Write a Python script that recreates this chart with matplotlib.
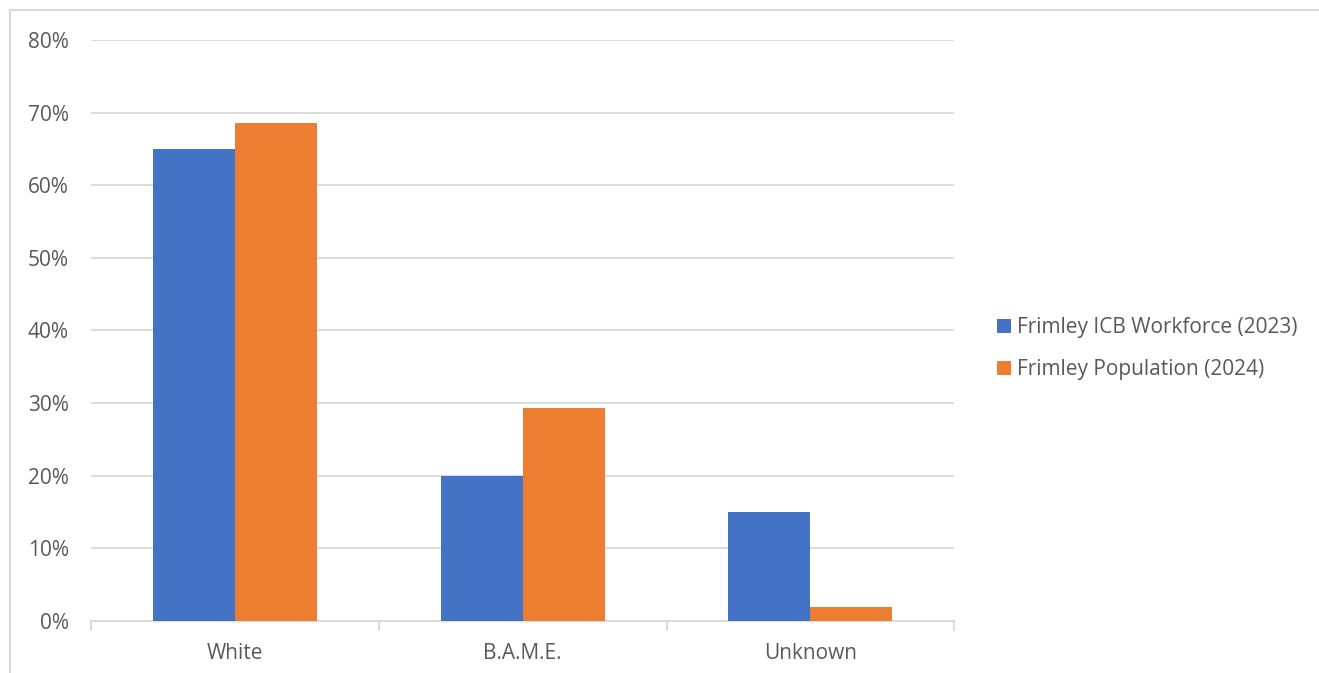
import matplotlib.pyplot as plt
from matplotlib.lines import Line2D
import numpy as np

plt.rcParams['font.family'] = ['Open Sans', 'DejaVu Sans']

categories = ["White", "B.A.M.E.", "Unknown"]
workforce = [0.65, 0.20, 0.15]
population = [0.685, 0.293, 0.019]
series_names = ["Frimley ICB Workforce (2023)", "Frimley Population (2024)"]

blue = "#4472C4"
orange = "#ED7D31"
txt = "#595959"
grid = "#D9D9D9"

fig = plt.figure(figsize=(13.19, 6.73), dpi=100)
ax = fig.add_axes([0.069, 0.0773, 0.6545, 0.8633])

x = np.arange(len(categories))
w = 0.285
b1 = ax.bar(x - w / 2, workforce, w, color=blue, label=series_names[0], zorder=3)
b2 = ax.bar(x + w / 2, population, w, color=orange, label=series_names[1], zorder=3)

ax.set_xlim(-0.5, len(categories) - 0.5)
ax.set_ylim(0, 0.8)
ax.set_yticks(np.arange(0, 0.81, 0.1))
ax.set_yticklabels([f"{int(round(v * 100))}%" for v in np.arange(0, 0.81, 0.1)])
ax.yaxis.grid(True, color=grid, linewidth=1.3, zorder=0)
ax.tick_params(axis='y', length=0, pad=16, labelsize=15, labelcolor=txt)

ax.set_xticks(x)
ax.set_xticklabels(categories)
ax.set_xticks(np.arange(-0.5, len(categories)), minor=True)
ax.tick_params(axis='x', which='major', length=0, pad=16, labelsize=15, labelcolor=txt)
ax.tick_params(axis='x', which='minor', length=7, width=1.3, color=grid)

for s in ["top", "right", "left"]:
    ax.spines[s].set_visible(False)
ax.spines["bottom"].set_color(grid)
ax.spines["bottom"].set_linewidth(1.3)

leg = fig.legend(handles=[b1, b2], labels=series_names, loc="center left",
                 bbox_to_anchor=(0.742, 0.482), frameon=False, fontsize=15,
                 handlelength=0.65, handleheight=0.65, handletextpad=0.3,
                 labelspacing=1.0)
for t in leg.get_texts():
    t.set_color(txt)

# outer chart border (top and left visible)
fig.add_artist(Line2D([10 / 1319, 1], [1 - 10 / 673, 1 - 10 / 673],
                      transform=fig.transFigure, color=grid, linewidth=1.5))
fig.add_artist(Line2D([10 / 1319, 10 / 1319], [0, 1 - 10 / 673],
                      transform=fig.transFigure, color=grid, linewidth=1.5))

fig.savefig("out.png", dpi=100)
